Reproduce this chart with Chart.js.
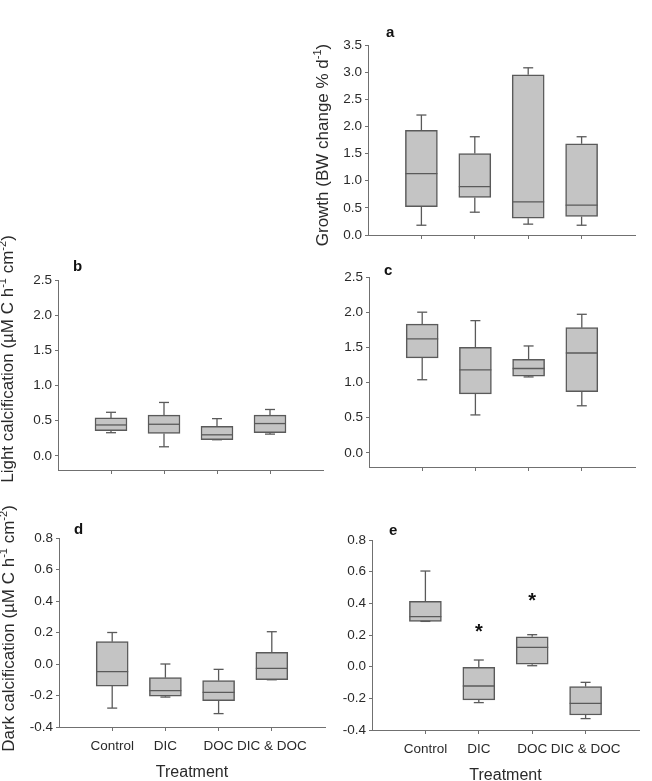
<!DOCTYPE html>
<html>
<head>
<meta charset="utf-8">
<script src="https://cdn.jsdelivr.net/npm/chart.js@4"></script>
<style>
html, body { margin: 0; padding: 0; background: #fff; overflow: hidden; }
#page { position: relative; width: 652px; height: 781px; }
canvas { position: absolute; }
</style>
</head>
<body>
<div id="page"></div>
<script>
const treatments = ["Control", "DIC", "DOC", "DIC & DOC"];

// a - growth (BW change % d-1)
const growthMin = [0.18, 0.42, 0.20, 0.18];
const growthQ1  = [0.52, 0.69, 0.31, 0.34];
const growthMed = [1.13, 0.89, 0.61, 0.55];
const growthQ3  = [1.93, 1.50, 2.95, 1.68];
const growthMax = [2.21, 1.81, 3.08, 1.81];
const growthTicks = [0, 0.5, 1, 1.5, 2, 2.5, 3, 3.5];

// b - light calcification
const lightBMin = [0.33, 0.13, 0.23, 0.31];
const lightBQ1  = [0.36, 0.32, 0.23, 0.33];
const lightBMed = [0.44, 0.45, 0.30, 0.46];
const lightBQ3  = [0.54, 0.58, 0.42, 0.58];
const lightBMax = [0.62, 0.76, 0.53, 0.66];

// c - light calcification
const lightCMin = [1.04, 0.54, 1.08, 0.67];
const lightCQ1  = [1.35, 0.84, 1.09, 0.87];
const lightCMed = [1.62, 1.18, 1.20, 1.42];
const lightCQ3  = [1.83, 1.50, 1.33, 1.78];
const lightCMax = [2.00, 1.88, 1.52, 1.97];
const lightTicks = [0, 0.5, 1, 1.5, 2, 2.5];

// d - dark calcification
const darkDMin = [-0.28, -0.21, -0.315, -0.10];
const darkDQ1  = [-0.14, -0.205, -0.233, -0.10];
const darkDMed = [-0.049, -0.169, -0.18, -0.028];
const darkDQ3  = [0.142, -0.087, -0.106, 0.074];
const darkDMax = [0.20, 0.00, -0.034, 0.205];

// e - dark calcification
const darkEMin = [0.286, -0.227, 0.006, -0.328];
const darkEQ1  = [0.286, -0.21, 0.015, -0.305];
const darkEMed = [0.316, -0.122, 0.122, -0.232];
const darkEQ3  = [0.413, -0.004, 0.189, -0.126];
const darkEMax = [0.604, 0.042, 0.202, -0.099];
const darkEStars = [null, 0.253, 0.453, null];
const darkTicks = [-0.4, -0.2, 0, 0.2, 0.4, 0.6, 0.8];

const FONT = '"Liberation Sans", Arial, sans-serif';
const TEXT = "#2a2a2a";
const AXIS = "#707070";
const EDGE = "#5a5a5a";
const FILL = "#c4c4c4";
const BOX_W = 32, CAP_W = 10;
// canvases are transparent, so they may overlap; the margins leave room for the titles
const PAD_L = 70, PAD_T = 60, PAD_R = 12, X_H = 62, PAD_B = 20;

// rotated axis title with superscript pieces
function drawRich(ctx, parts, cx, cy, size) {
    ctx.save();
    ctx.translate(cx, cy);
    ctx.rotate(-Math.PI / 2);
    ctx.fillStyle = TEXT;
    ctx.textBaseline = "alphabetic";
    const main = `${size}px ${FONT}`;
    const sup = `${Math.round(size * 0.62)}px ${FONT}`;
    let total = 0;
    parts.forEach(p => { ctx.font = p[1] ? sup : main; p.w = ctx.measureText(p[0]).width; total += p.w; });
    let x = -total / 2;
    const base = size * 0.35;
    parts.forEach(p => {
        ctx.font = p[1] ? sup : main;
        ctx.fillText(p[0], x, p[1] ? base - size * 0.42 : base);
        x += p.w;
    });
    ctx.restore();
}

function line(ctx, x1, y1, x2, y2) {
    ctx.beginPath();
    ctx.moveTo(x1, y1);
    ctx.lineTo(x2, y2);
    ctx.stroke();
}

function boxPanel(p) {
    const cv = document.createElement("canvas");
    const w = PAD_L + (p.area.r - p.area.l) + PAD_R;
    const h = PAD_T + (p.area.b - p.area.t) + X_H + PAD_B;
    cv.width = w; cv.height = h;
    cv.style.left = (p.area.l - PAD_L) + "px";
    cv.style.top = (p.area.t - PAD_T) + "px";
    document.getElementById("page").appendChild(cv);

    const extras = {
        id: "boxExtras",
        afterDatasetsDraw(chart) {
            const { ctx, chartArea, scales: { x, y } } = chart;
            ctx.save();
            ctx.strokeStyle = EDGE;
            ctx.lineWidth = 1.3;
            p.med.forEach((m, i) => {
                const px = x.getPixelForValue(i + 1);
                const yMax = y.getPixelForValue(p.max[i]), yQ3 = y.getPixelForValue(p.q3[i]);
                const yMin = y.getPixelForValue(p.min[i]), yQ1 = y.getPixelForValue(p.q1[i]);
                line(ctx, px, yQ3, px, yMax);
                line(ctx, px - CAP_W / 2, yMax, px + CAP_W / 2, yMax);
                line(ctx, px, yQ1, px, yMin);
                line(ctx, px - CAP_W / 2, yMin, px + CAP_W / 2, yMin);
                line(ctx, px - BOX_W / 2, y.getPixelForValue(m), px + BOX_W / 2, y.getPixelForValue(m));
            });
            // significance marks
            if (p.stars) {
                ctx.fillStyle = "#111";
                ctx.font = `bold 20px ${FONT}`;
                ctx.textAlign = "center";
                p.stars.forEach((s, i) => {
                    if (s === null) return;
                    ctx.fillText("*", x.getPixelForValue(i + 1), y.getPixelForValue(s) + 11.6);
                });
            }
            // panel letter
            ctx.fillStyle = "#111";
            ctx.textAlign = "left";
            ctx.textBaseline = "middle";
            ctx.font = `bold 15px ${FONT}`;
            ctx.fillText(p.letter, chartArea.left + p.letterAt[0], chartArea.top + p.letterAt[1]);
            ctx.restore();

            if (p.yTitle) {
                drawRich(ctx, p.yTitle, chartArea.left + p.yTitleAt[0],
                    (chartArea.top + chartArea.bottom) / 2 + p.yTitleAt[1], 17);
            }
            if (p.showX) {
                ctx.save();
                ctx.fillStyle = TEXT;
                ctx.font = `16px ${FONT}`;
                ctx.textAlign = "center";
                ctx.textBaseline = "middle";
                ctx.fillText("Treatment", (chartArea.left + chartArea.right) / 2, chartArea.bottom + 46);
                ctx.restore();
            }
        }
    };

    new Chart(cv, {
        type: "bar",
        data: {
            datasets: [{
                data: treatments.map((t, i) => ({ x: i + 1, y: [p.q1[i], p.q3[i]] })),
                backgroundColor: FILL,
                borderColor: EDGE,
                borderWidth: 1.5,
                borderSkipped: false,
                barThickness: BOX_W
            }]
        },
        options: {
            responsive: false,
            animation: false,
            devicePixelRatio: 1,
            layout: { padding: { left: 0, top: PAD_T, right: PAD_R, bottom: PAD_B } },
            plugins: { legend: { display: false }, tooltip: { enabled: false } },
            scales: {
                x: {
                    type: "linear",
                    min: 0,
                    max: 5,
                    offset: false,
                    afterBuildTicks: s => { s.ticks = treatments.map((t, i) => ({ value: i + 1 })); },
                    afterFit: s => { s.height = X_H; },
                    ticks: {
                        autoSkip: false,
                        maxRotation: 0,
                        padding: 7,
                        color: TEXT,
                        font: { family: FONT, size: 13.5 },
                        callback: v => p.showX ? treatments[v - 1] : ""
                    },
                    grid: { display: true, offset: false, drawOnChartArea: false, tickLength: 4, color: AXIS },
                    border: { display: true, color: AXIS }
                },
                y: {
                    min: p.yMin,
                    max: p.yMax,
                    afterBuildTicks: s => { s.ticks = p.ticks.map(v => ({ value: v })); },
                    afterFit: s => { s.width = PAD_L; },
                    ticks: {
                        padding: 3,
                        color: TEXT,
                        font: { family: FONT, size: 13.5 },
                        callback: v => v.toFixed(1)
                    },
                    grid: { display: true, drawOnChartArea: false, tickLength: 3, color: AXIS },
                    border: { display: true, color: AXIS }
                }
            }
        },
        plugins: [extras]
    });
}

boxPanel({
    area: { l: 368, r: 635, t: 45, b: 235 }, yMin: 0, yMax: 3.5, ticks: growthTicks,
    min: growthMin, q1: growthQ1, med: growthMed, q3: growthQ3, max: growthMax,
    letter: "a", letterAt: [18, -12],
    yTitle: [["Growth (BW change % d"], ["-1", true], [")"]], yTitleAt: [-46, 5]
});
boxPanel({
    area: { l: 58, r: 323, t: 280, b: 470 }, yMin: -0.2, yMax: 2.5, ticks: lightTicks,
    min: lightBMin, q1: lightBQ1, med: lightBMed, q3: lightBQ3, max: lightBMax,
    letter: "b", letterAt: [15, -13],
    yTitle: [["Light calcification (\u00b5M C h"], ["-1", true], [" cm"], ["-2", true], [")"]], yTitleAt: [-51, -16]
});
boxPanel({
    area: { l: 369, r: 635, t: 277, b: 467 }, yMin: -0.2, yMax: 2.5, ticks: lightTicks,
    min: lightCMin, q1: lightCQ1, med: lightCMed, q3: lightCQ3, max: lightCMax,
    letter: "c", letterAt: [15, -6]
});
boxPanel({
    area: { l: 59, r: 325, t: 538, b: 727 }, yMin: -0.4, yMax: 0.8, ticks: darkTicks,
    min: darkDMin, q1: darkDQ1, med: darkDMed, q3: darkDQ3, max: darkDMax,
    letter: "d", letterAt: [15, -8], showX: true,
    yTitle: [["Dark calcification (\u00b5M C h"], ["-1", true], [" cm"], ["-2", true], [")"]], yTitleAt: [-51, -4]
});
boxPanel({
    area: { l: 372, r: 639, t: 540, b: 730 }, yMin: -0.4, yMax: 0.8, ticks: darkTicks,
    min: darkEMin, q1: darkEQ1, med: darkEMed, q3: darkEQ3, max: darkEMax, stars: darkEStars,
    letter: "e", letterAt: [17, -9], showX: true
});
</script>
</body>
</html>
